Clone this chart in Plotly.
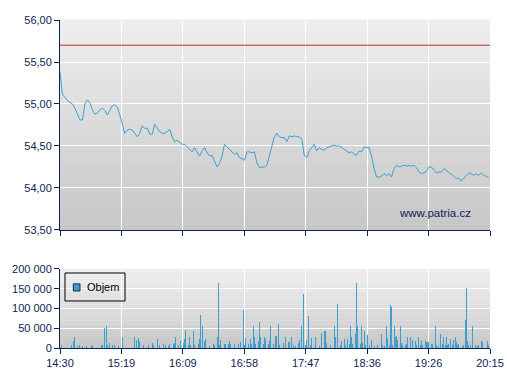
import pandas as pd
import plotly.graph_objects as go

DAY = "2024-01-01"
START_TIME = "14:30"
END_TIME = "20:15"
PRICE_STEP = "2min"
REF_PRICE = 55.70
SERIES_NAME = "Objem"
SOURCE_TEXT = "www.patria.cz"

PRICES = [
    55.38, 55.11, 55.08, 55.04, 55.02, 55.00, 54.95, 54.88, 54.81, 54.81,
    55.00, 55.05, 55.01, 54.93, 54.88, 54.89, 54.93, 54.95, 54.92, 54.87,
    54.92, 54.98, 54.99, 54.96, 54.87, 54.75, 54.65, 54.69, 54.70, 54.69,
    54.65, 54.61, 54.65, 54.74, 54.71, 54.71, 54.64, 54.64, 54.76, 54.71,
    54.67, 54.65, 54.65, 54.67, 54.70, 54.61, 54.55, 54.57, 54.54, 54.52,
    54.52, 54.49, 54.45, 54.43, 54.48, 54.42, 54.38, 54.44, 54.48, 54.42,
    54.38, 54.39, 54.32, 54.25, 54.29, 54.38, 54.52, 54.49, 54.46, 54.43,
    54.40, 54.42, 54.36, 54.35, 54.33, 54.43, 54.43, 54.42, 54.43, 54.30,
    54.24, 54.25, 54.25, 54.27, 54.39, 54.51, 54.61, 54.65, 54.61, 54.60,
    54.60, 54.55, 54.62, 54.61, 54.62, 54.61, 54.61, 54.58, 54.39, 54.36,
    54.44, 54.48, 54.52, 54.44, 54.48, 54.46, 54.45, 54.48, 54.49, 54.50,
    54.51, 54.50, 54.50, 54.48, 54.46, 54.43, 54.42, 54.43, 54.40, 54.39,
    54.44, 54.43, 54.49, 54.48, 54.48, 54.38, 54.23, 54.13, 54.13, 54.14,
    54.17, 54.15, 54.17, 54.13, 54.23, 54.27, 54.25, 54.26, 54.27, 54.26,
    54.27, 54.26, 54.27, 54.24, 54.19, 54.17, 54.18, 54.20, 54.25, 54.25,
    54.21, 54.18, 54.19, 54.19, 54.23, 54.21, 54.19, 54.17, 54.14, 54.11,
    54.12, 54.08, 54.12, 54.15, 54.18, 54.17, 54.15, 54.17, 54.15, 54.18,
    54.15, 54.14, 54.12,
]

VOL_TIMES = [
    "14:31", "14:34", "14:38", "14:39", "14:41", "14:42", "14:44", "14:46", "14:48", "14:51",
    "14:55", "14:56", "15:03", "15:04", "15:06", "15:07", "15:08", "15:10", "15:12", "15:14",
    "15:17", "15:20",
    "15:30", "15:31", "15:33", "15:34", "15:35", "15:37", "15:39", "15:41", "15:44", "15:45",
    "15:48", "15:50", "15:53", "15:55", "15:57", "15:58",
    "16:01", "16:02", "16:03", "16:05", "16:07", "16:09", "16:10", "16:11", "16:13", "16:14",
    "16:15", "16:17", "16:18", "16:21", "16:22", "16:23", "16:24", "16:26", "16:27", "16:30",
    "16:33", "16:34", "16:36", "16:37", "16:38", "16:39", "16:42", "16:43", "16:45", "16:46",
    "16:47", "16:50", "16:53", "16:55", "16:57", "16:58", "16:59",
    "17:01", "17:03", "17:04", "17:05", "17:06", "17:07", "17:09", "17:10", "17:11", "17:13",
    "17:14", "17:15", "17:17", "17:18", "17:19", "17:21", "17:23", "17:24", "17:25", "17:26",
    "17:29", "17:31", "17:33", "17:34", "17:36", "17:37", "17:39", "17:41", "17:42", "17:44",
    "17:45", "17:47", "17:48", "17:49", "17:51", "17:52", "17:53", "17:55", "17:57", "17:58",
    "18:00", "18:02", "18:03", "18:04", "18:05", "18:07", "18:10", "18:11", "18:13", "18:15",
    "18:16", "18:18", "18:19", "18:21", "18:22", "18:23", "18:24", "18:25", "18:27", "18:28",
    "18:29", "18:31", "18:32", "18:33", "18:34", "18:35", "18:37", "18:38", "18:40", "18:42",
    "18:45", "18:48", "18:49", "18:50", "18:52", "18:53", "18:54", "18:55", "18:56", "18:57",
    "18:58", "18:59",
    "19:00", "19:01", "19:02", "19:03", "19:04", "19:05", "19:06", "19:07", "19:08", "19:09",
    "19:10", "19:11", "19:13", "19:14", "19:15", "19:16", "19:18", "19:19", "19:20", "19:21",
    "19:23", "19:24", "19:25", "19:26", "19:28", "19:29", "19:31", "19:32", "19:34", "19:35",
    "19:37", "19:38", "19:39", "19:40", "19:41", "19:42", "19:43", "19:45", "19:46", "19:47",
    "19:48", "19:49", "19:50", "19:53", "19:54", "19:55", "19:56", "19:57", "19:58", "19:59",
    "20:01", "20:03", "20:05", "20:06", "20:08", "20:09", "20:11", "20:13", "20:14",
]

VOLUMES = [
    8000, 3000, 29000, 8000, 17000, 29000, 6000, 8000, 4000, 6000,
    8000, 4000, 8000, 8000, 50000, 56000, 8000, 13000, 8000, 8000,
    6000, 27000,
    29000, 20000, 25000, 17000, 13000, 8000, 25000, 8000, 13000, 8000,
    22000, 8000, 11000, 8000, 6000, 11000,
    11000, 13000, 29000, 8000, 17000, 13000, 22000, 46000, 8000, 29000,
    8000, 44000, 8000, 11000, 22000, 84000, 56000, 17000, 22000, 6000,
    11000, 8000, 29000, 165000, 8000, 19000, 11000, 11000, 11000, 17000,
    11000, 11000, 11000, 14000, 95000, 8000, 25000,
    11000, 24000, 11000, 56000, 29000, 11000, 17000, 67000, 29000, 11000,
    29000, 22000, 11000, 17000, 56000, 11000, 31000, 31000, 61000, 8000,
    13000, 28000, 14000, 14000, 28000, 8000, 6000, 13000, 19000, 56000,
    137000, 8000, 19000, 80000, 8000, 25000, 11000, 29000, 11000, 6000,
    38000, 43000, 43000, 13000, 56000, 8000, 56000, 29000, 112000, 8000,
    17000, 22000, 8000, 22000, 11000, 56000, 29000, 11000, 36000, 165000,
    56000, 11000, 56000, 13000, 43000, 8000, 33000, 8000, 21000, 6000,
    8000, 36000, 8000, 6000, 56000, 25000, 8000, 109000, 103000, 8000,
    56000, 29000,
    31000, 19000, 13000, 56000, 13000, 8000, 50000, 8000, 11000, 29000,
    109000, 29000, 19000, 8000, 18000, 8000, 28000, 8000, 21000, 8000,
    18000, 14000, 14000, 14000, 11000, 11000, 56000, 8000, 6000, 36000,
    11000, 28000, 8000, 28000, 8000, 11000, 22000, 8000, 19000, 28000,
    14000, 8000, 11000, 6000, 8000, 71000, 151000, 17000, 8000, 8000,
    56000, 8000, 6000, 8000, 18000, 14000, 13000, 17000, 8000,
]

TICK_TEXT = ["14:30", "15:19", "16:09", "16:58", "17:47", "18:36", "19:26", "20:15"]
PRICE_TICKS = [53.5, 54.0, 54.5, 55.0, 55.5, 56.0]
VOL_TICKS = [0, 50000, 100000, 150000, 200000]

# ---------------------------------------------------------------
t_start = pd.Timestamp(f"{DAY} {START_TIME}")
t_end = pd.Timestamp(f"{DAY} {END_TIME}")
price_times = pd.date_range(t_start, periods=len(PRICES), freq=PRICE_STEP)
vol_times = [pd.Timestamp(f"{DAY} {t}") for t in VOL_TIMES]
tick_vals = pd.date_range(t_start, t_end, periods=len(TICK_TEXT))

NAVY = "#0d2456"
BLUE = "#3d9fd0"
FONT = "Liberation Sans, Arial, sans-serif"

fig = go.Figure()
fig.add_trace(go.Scatter(
    x=price_times, y=PRICES, mode="lines",
    line=dict(color=BLUE, width=1), xaxis="x2", yaxis="y2",
    showlegend=False, hoverinfo="skip",
))
fig.add_trace(go.Bar(
    x=vol_times, y=VOLUMES, name=SERIES_NAME,
    marker=dict(color=BLUE, line=dict(width=0)),
    width=45000, xaxis="x", yaxis="y", showlegend=False,
))

# gradient backgrounds
shapes = []
N = 40
top = (239, 239, 239)
bot = (198, 198, 198)
for xr, yr in (("x2 domain", "y2 domain"), ("x domain", "y domain")):
    for i in range(N):
        f = (i + 0.5) / N
        c = tuple(round(bot[k] + (top[k] - bot[k]) * f) for k in range(3))
        shapes.append(dict(
            type="rect", xref=xr, yref=yr, x0=0, x1=1,
            y0=i / N, y1=(i + 1) / N + 0.002,
            fillcolor=f"rgb{c}", line=dict(width=0), layer="below",
        ))
shapes.append(dict(
    type="line", xref="x2 domain", yref="y2", x0=0, x1=1,
    y0=REF_PRICE, y1=REF_PRICE, line=dict(color="#c0302c", width=1), layer="above",
))
# legend box drawn by hand (compact like the original)
shapes.append(dict(
    type="rect", xref="paper", yref="paper", x0=0.0116, x1=0.1512, y0=0.1433, y1=0.2287,
    line=dict(color="black", width=1), fillcolor="rgba(0,0,0,0)", layer="above",
))
shapes.append(dict(
    type="rect", xref="paper", yref="paper", x0=0.031, x1=0.0465, y0=0.1738, y1=0.1955,
    line=dict(color="#1a2a3a", width=1), fillcolor=BLUE, layer="above",
))

axis_common = dict(
    showline=True, linecolor=NAVY, linewidth=1,
    ticks="outside", tickcolor=NAVY, ticklen=5, tickwidth=1,
    showgrid=True, gridcolor="white", gridwidth=1,
    zeroline=False, automargin=False,
    tickfont=dict(family=FONT, size=11, color=NAVY),
)

fig.update_layout(
    width=507, height=380,
    margin=dict(l=60, r=17, t=20, b=32),
    paper_bgcolor="white", plot_bgcolor="rgba(0,0,0,0)",
    separators=", ",
    shapes=shapes,
    bargap=0,
    showlegend=False,
    xaxis=dict(
        **axis_common, domain=[0, 1], anchor="y",
        range=[t_start, t_end], tickvals=tick_vals, ticktext=TICK_TEXT,
    ),
    xaxis2=dict(
        **axis_common, domain=[0, 1], anchor="y2", matches="x",
        range=[t_start, t_end], tickvals=tick_vals, ticktext=TICK_TEXT,
        showticklabels=False,
    ),
    yaxis=dict(
        **axis_common, domain=[0, 0.2409], anchor="x",
        range=[0, 200000], tickvals=VOL_TICKS, tickformat=",d",
    ),
    yaxis2=dict(
        **axis_common, domain=[0.3598, 1], anchor="x2",
        range=[53.5, 56.0], tickvals=PRICE_TICKS, tickformat=".2f",
    ),
    annotations=[
        dict(
            text=SOURCE_TEXT, xref="paper", yref="y2 domain",
            x=0.9605, y=0.081, xanchor="right", yanchor="middle",
            showarrow=False, font=dict(family=FONT, size=11.5, color=NAVY),
        ),
        dict(
            text=SERIES_NAME, xref="paper", yref="paper",
            x=0.0581, y=0.1845, xanchor="left", yanchor="middle",
            showarrow=False, font=dict(family=FONT, size=11, color="black"),
        ),
    ],
)

fig.write_html(
    "out.html",
    config={"displayModeBar": False, "staticPlot": True},
    post_script="document.body.style.margin='0';document.body.style.overflow='hidden';",
)
